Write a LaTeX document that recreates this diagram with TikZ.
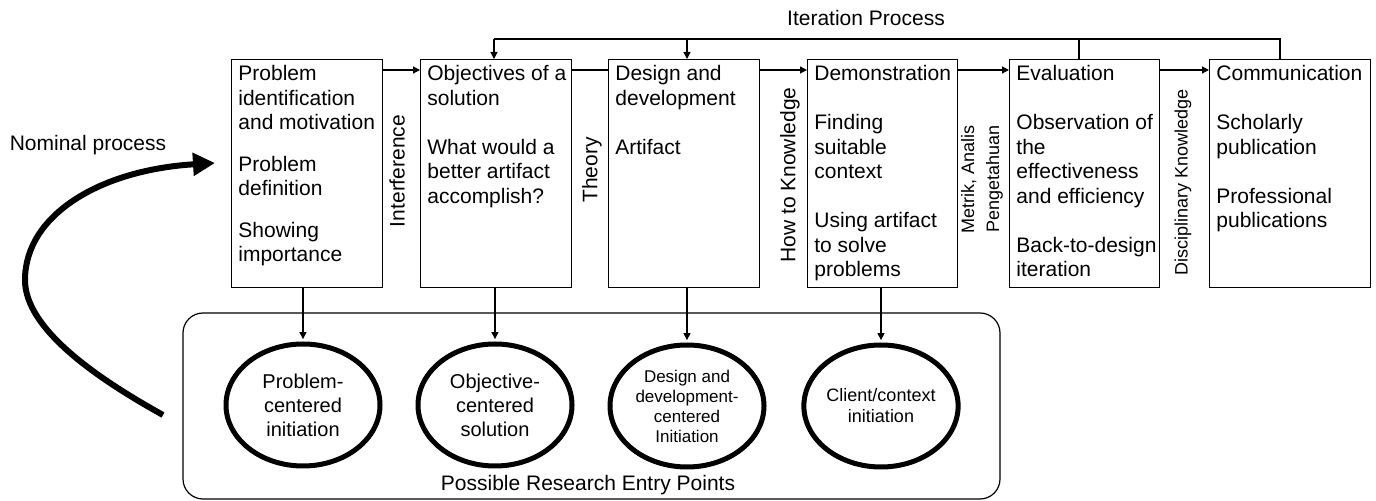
\documentclass[tikz,border=0pt]{standalone}
\usepackage{fontspec}
\setmainfont{Liberation Sans}
\usetikzlibrary{arrows.meta,shapes.geometric}

\tikzset{
    stage/.style = {draw, line width = 0.7pt, anchor = north west, minimum height = 114pt, inner sep = 0pt},
    stagetext/.style = {anchor = north west, align = left, inner xsep = 3.5pt, inner ysep = 3pt, font = \fontsize{10.5}{12.25}\selectfont},
    entry/.style = {draw, ellipse, line width = 2.5pt, minimum width = 77pt, minimum height = 61pt, align = center, inner sep = 0pt},
    side/.style = {rotate = 90, align = center, font = \fontsize{10.5}{12.25}\selectfont},
    flow/.style = {line width = 0.6pt, -{Triangle[length = 3.5pt, width = 3.5pt]}},
    plainline/.style = {line width = 0.6pt}
}
\newcommand{\blank}{\\[12.25pt]}

\begin{document}
\begin{tikzpicture}[x = 0.5pt, y = -0.5pt]
    \useasboundingbox (0,0) rectangle (1376,501);
    % the six steps
    \node[stage, minimum width = 75.5pt] (b1) at (231,59) {};
    \node[stage, minimum width = 75.5pt] (b2) at (420,59) {};
    \node[stage, minimum width = 75.5pt] (b3) at (608,59) {};
    \node[stage, minimum width = 75pt] (b4) at (807,59) {};
    \node[stage, minimum width = 75pt] (b5) at (1009,59) {};
    \node[stage, minimum width = 80.5pt] (b6) at (1209,59) {};
    \node[stagetext] (t1) at (b1.north west) {Problem\\identification\\and motivation\\[8.5pt]Problem\\definition\\[8.5pt]Showing\\importance};
    \node[stagetext] (t2) at (b2.north west) {Objectives of a\\solution\blank What would a\\better artifact\\accomplish?};
    \node[stagetext] (t3) at (b3.north west) {Design and\\development\blank Artifact};
    \node[stagetext] (t4) at (b4.north west) {Demonstration\blank Finding\\suitable\\context\blank Using artifact\\to solve\\problems};
    \node[stagetext] (t5) at (b5.north west) {Evaluation\blank Observation of\\the\\effectiveness\\and efficiency\blank Back-to-design\\iteration};
    \node[stagetext] (t6) at (b6.north west) {Communication\blank Scholarly\\publication\blank Professional\\publications};

    % labels between the steps
    \node[side] (l1) at (397,171) {Interference};
    \node[side] (l2) at (592,170) {Theory};
    \node[side] (l3) at (790,175) {How to Knowledge};
    \node[side, font = \fontsize{9}{12.5}\selectfont] (l4) at (982,179) {Metrik, Analis\\Pengetahuan};
    \node[side, font = \fontsize{9}{11}\selectfont] (l5) at (1183,182) {Disciplinary Knowledge};

    \draw[flow] ([yshift = -5.5pt]b1.north east) -- ([yshift = -5.5pt]b2.north west);
    \draw[plainline] ([yshift = -5.5pt]b2.north east) -- ([yshift = -5.5pt]b3.north west);
    \draw[flow] ([yshift = -5.5pt]b3.north east) -- ([yshift = -5.5pt]b4.north west);
    \draw[flow] ([yshift = -5.5pt]b4.north east) -- ([yshift = -5.5pt]b5.north west);
    \draw[flow] ([yshift = -5.5pt]b5.north east) -- ([yshift = -5.5pt]b6.north west);

    % iteration loop
    \node[font = \fontsize{10.5}{12.25}\selectfont] (iter) at (866,18) {Iteration Process};
    \coordinate (i2) at (494,39);
    \coordinate (i3) at (687,39);
    \coordinate (i5) at (1079,39);
    \coordinate (i6) at (1280,39);
    \draw[plainline] (b6.north -| i6) -- (i6) -- (i2);
    \draw[plainline] (b5.north -| i5) -- (i5);
    \draw[flow] (i2) -- (i2 |- b2.north);
    \draw[flow] (i3) -- (i3 |- b3.north);

    % entry points
    \node[draw, line width = 0.6pt, rounded corners = 10pt, minimum width = 408.5pt, minimum height = 93pt] (box) at (591.5,406) {};
    \node[font = \fontsize{10.5}{12.25}\selectfont] (boxlabel) at (588,485) {Possible Research Entry Points};
    \node[entry, font = \fontsize{10}{12}\selectfont] (e1) at (303,405) {Problem-\\centered\\initiation};
    \node[entry, font = \fontsize{10}{12}\selectfont] (e2) at (495,405) {Objective-\\centered\\solution};
    \node[entry, font = \fontsize{8.5}{10}\selectfont] (e3) at (687,406) {Design and\\development-\\centered\\Initiation};
    \node[entry, font = \fontsize{9}{10.5}\selectfont] (e4) at (881,406) {Client/context\\initiation};
    \foreach \b/\e in {b1/e1, b2/e2, b3/e3, b4/e4}
        \draw[flow, shorten > = 1.2pt] (\b.south -| \e.north) -- (\e.north);

    % nominal process
    \node[font = \fontsize{10.5}{12.25}\selectfont] (nominal) at (88,145) {Nominal process};
    \coordinate (n0) at (163,415);
    \coordinate (n1) at (25,280);
    \coordinate (n2) at (215,163);
    \draw[line width = 3pt, -{Triangle[length = 11pt, width = 11pt]}] (n0) .. controls (100,380) and (25,330) .. (n1) .. controls (25,215) and (100,170) .. (n2);
\end{tikzpicture}
\end{document}
